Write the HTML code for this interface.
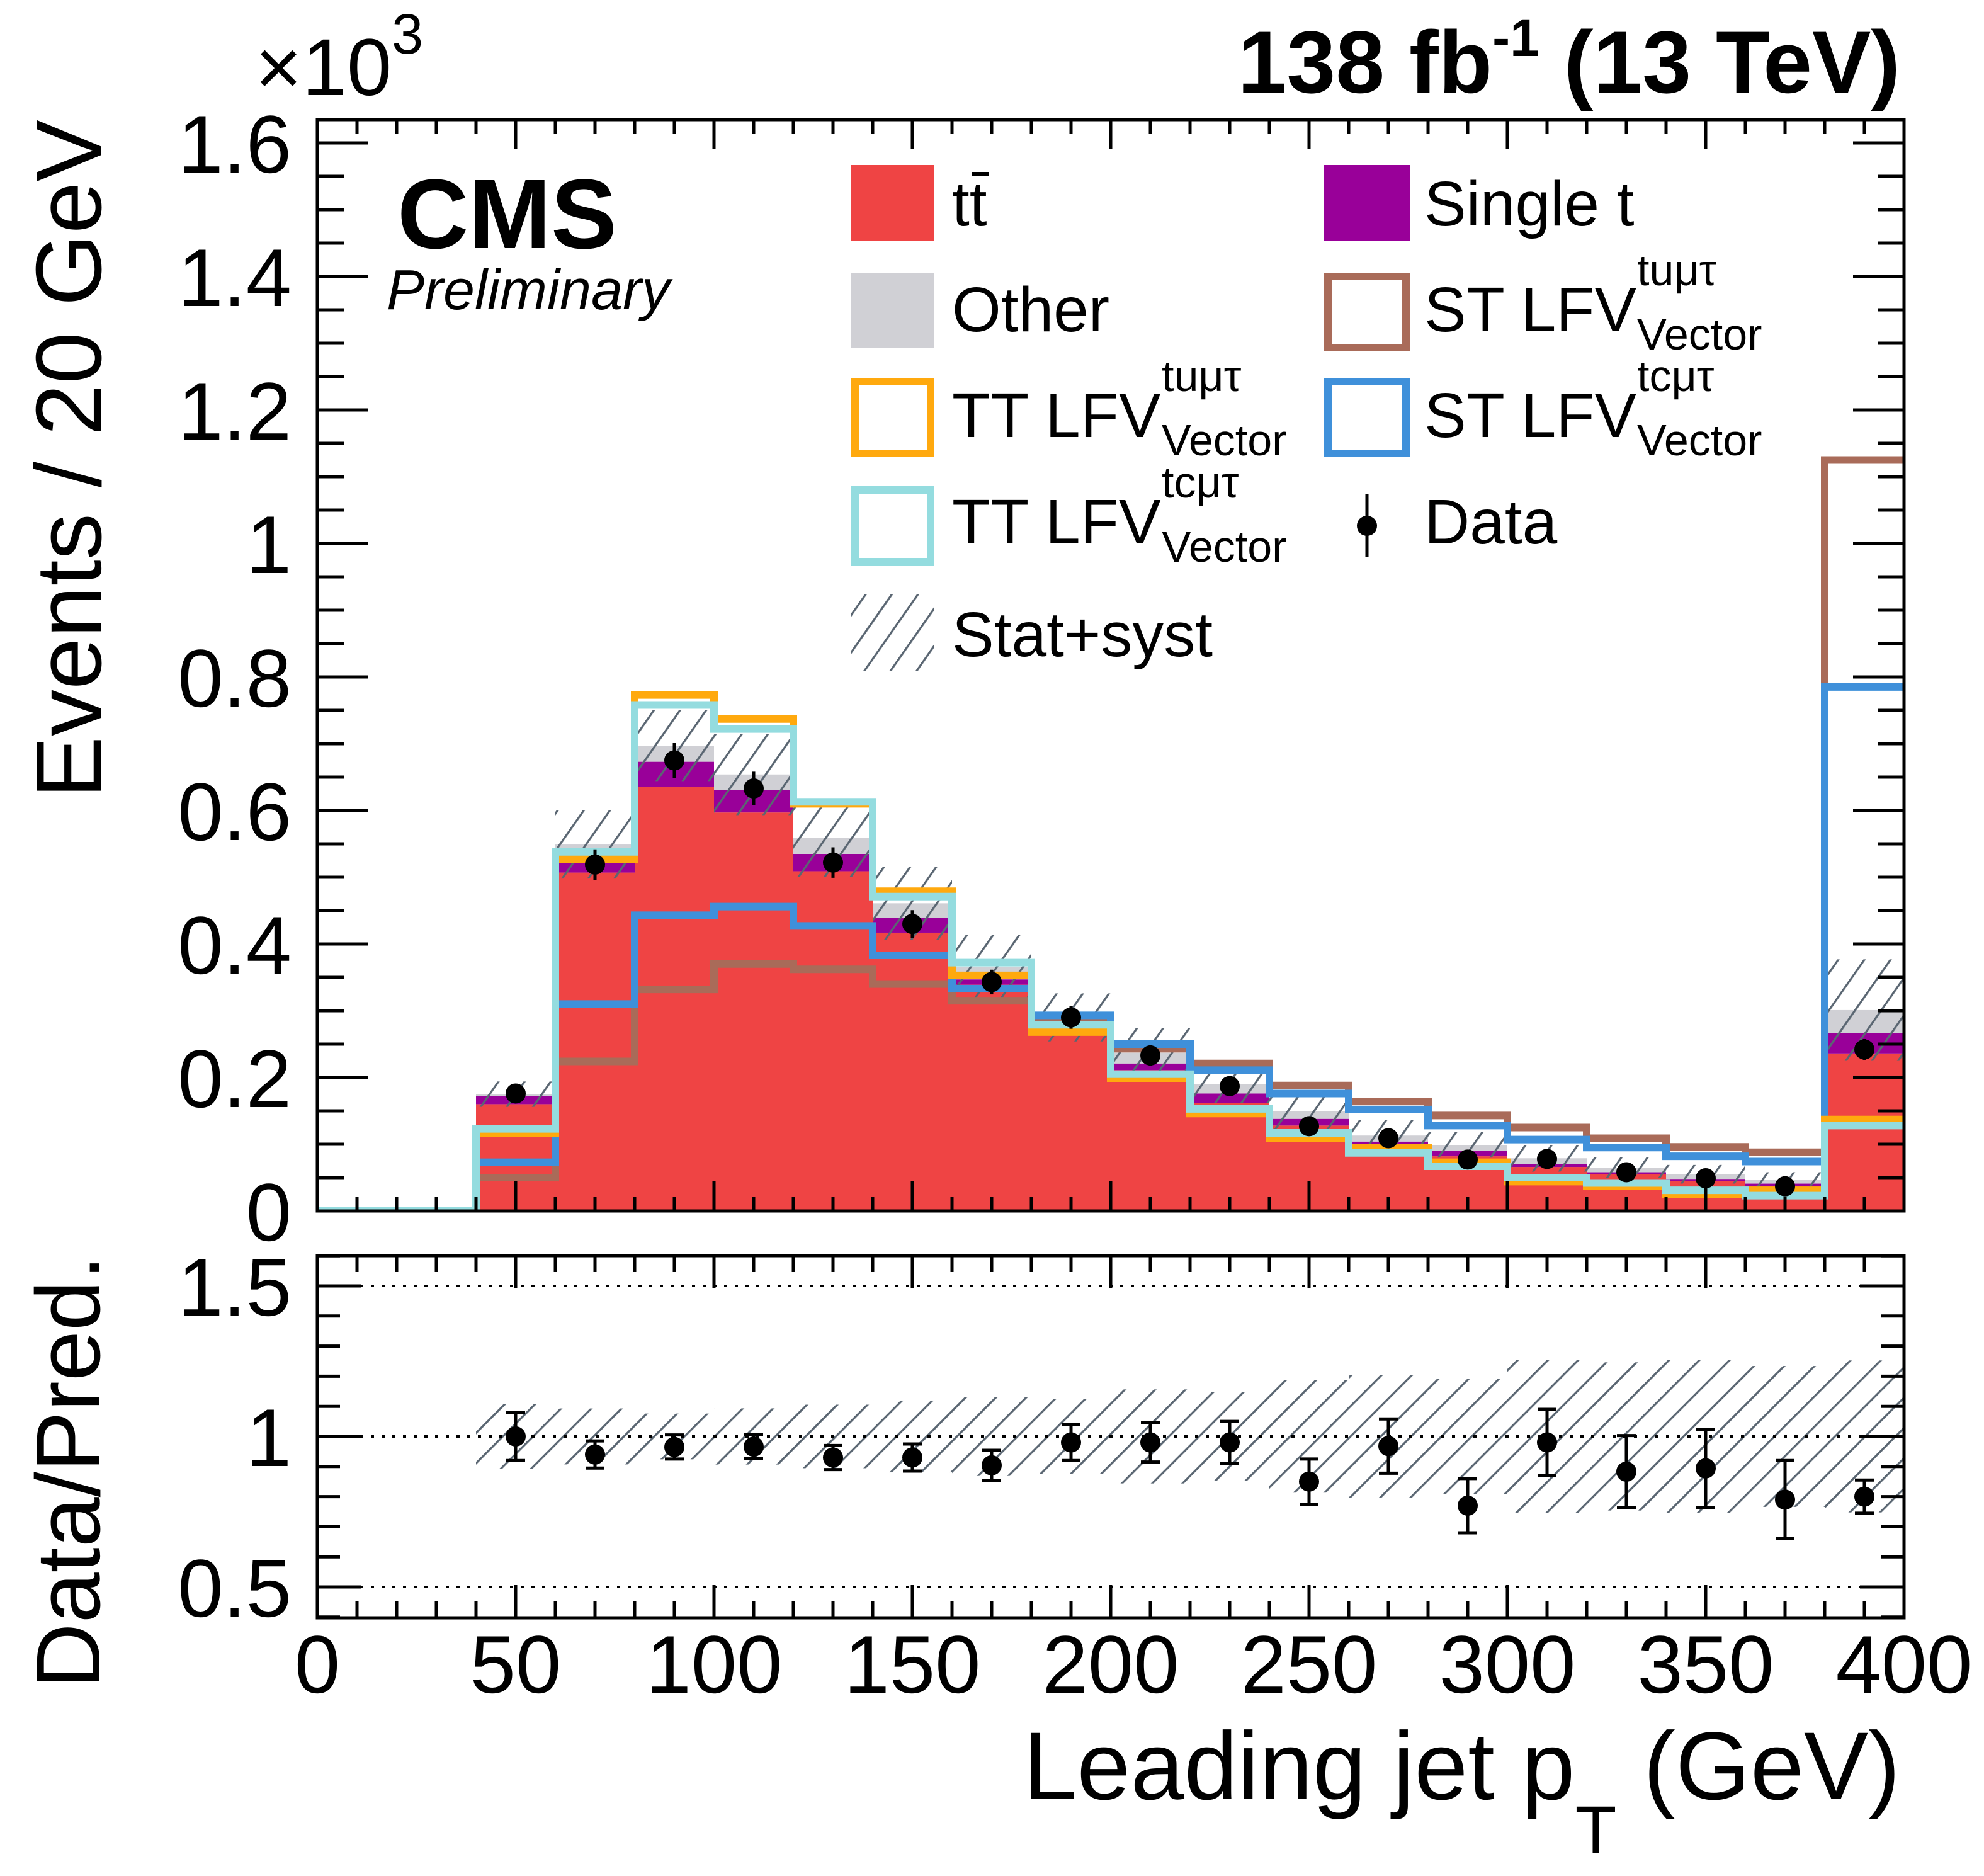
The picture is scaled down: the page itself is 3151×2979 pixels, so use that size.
<!DOCTYPE html>
<html><head><meta charset="utf-8"><style>
html,body{margin:0;padding:0;background:#fff}
svg{display:block;font-family:"Liberation Sans",Arial,sans-serif}
</style></head><body>
<svg id="chart" width="3151" height="2979" viewBox="0 0 3151 2979" xmlns="http://www.w3.org/2000/svg">
<defs>
<pattern id="hatchMain" patternUnits="userSpaceOnUse" width="34" height="34" patternTransform="rotate(35)"><line x1="0" y1="0" x2="0" y2="34" stroke="#5a6672" stroke-width="6.5"/></pattern>
<pattern id="hatchRatio" patternUnits="userSpaceOnUse" width="34" height="34" patternTransform="rotate(45)"><line x1="0" y1="0" x2="0" y2="34" stroke="#5a6672" stroke-width="6.5"/></pattern>
<clipPath id="clipMain"><rect x="504" y="190" width="2520" height="1733"/></clipPath>
<clipPath id="clipRatio"><rect x="504" y="1994" width="2520" height="575"/></clipPath>
</defs>
<g id="mainLayer" clip-path="url(#clipMain)"></g>
<g id="ratioLayer" clip-path="url(#clipRatio)"></g>
<g id="axisLayer"></g>

<text x="405" y="151" font-size="128">×10<tspan dy="-66" font-size="90">3</tspan></text>
<text x="3018" y="147" font-size="140" font-weight="bold" text-anchor="end">138 fb<tspan dy="-58" font-size="84">-1</tspan><tspan dy="58"> (13 TeV)</tspan></text>
<text x="631" y="394" font-size="157" font-weight="bold">CMS</text>
<text x="614" y="491" font-size="90" font-style="italic">Preliminary</text>
<text transform="translate(160,190) rotate(-90)" font-size="148" text-anchor="end">Events / 20 GeV</text>
<text transform="translate(158,1993) rotate(-90)" font-size="144" text-anchor="end">Data/Pred.</text>
<text x="3018" y="2857" font-size="153" text-anchor="end">Leading jet p<tspan dy="86" font-size="108">T</tspan><tspan dy="-86"> (GeV)</tspan></text>

<g font-size="100">
 <g>
  <rect x="1352" y="262" width="132" height="120" fill="#ef4444"/>
  <text x="1512" y="358">tt</text><line x1="1543" y1="276" x2="1570" y2="276" stroke="#000" stroke-width="6"/>
 </g>
 <g>
  <rect x="1352" y="433" width="132" height="119" fill="#d0d0d5"/>
  <text x="1512" y="526">Other</text>
 </g>
 <g>
  <rect x="1358" y="606" width="120" height="114" fill="none" stroke="#ffa90e" stroke-width="12"/>
  <text x="1512" y="694">TT LFV</text><text x="1845" y="621" font-size="70">tuμτ</text><text x="1845" y="723" font-size="70">Vector</text>
 </g>
 <g>
  <rect x="1358" y="778" width="120" height="114" fill="none" stroke="#94dcdf" stroke-width="12"/>
  <text x="1512" y="863">TT LFV</text><text x="1845" y="790" font-size="70">tcμτ</text><text x="1845" y="892" font-size="70">Vector</text>
 </g>
 <g>
  <rect x="1352" y="944" width="132" height="122" fill="url(#hatchMain)"/>
  <text x="1512" y="1042">Stat+syst</text>
 </g>
 <g>
  <rect x="2103" y="262" width="136" height="120" fill="#990099"/>
  <text x="2262" y="358">Single t</text>
 </g>
 <g>
  <rect x="2109" y="439" width="124" height="113" fill="none" stroke="#a96b59" stroke-width="12"/>
  <text x="2262" y="526">ST LFV</text><text x="2600" y="453" font-size="70">tuμτ</text><text x="2600" y="555" font-size="70">Vector</text>
 </g>
 <g>
  <rect x="2109" y="606" width="124" height="114" fill="none" stroke="#3f90da" stroke-width="12"/>
  <text x="2262" y="694">ST LFV</text><text x="2600" y="621" font-size="70">tcμτ</text><text x="2600" y="723" font-size="70">Vector</text>
 </g>
 <g>
  <line x1="2171" y1="784" x2="2171" y2="885" stroke="#000" stroke-width="5"/>
  <circle cx="2171" cy="835" r="16" fill="#000"/>
  <text x="2262" y="863">Data</text>
 </g>
</g>
</svg>
<script>
var binLow = [0,20,40,60,80,100,120,140,160,180,200,220,240,260,280,300,320,340,360,380];
var ttbar = [0,0,160,507,635,597,509,417,339,268,211,162,128,98,82,66,55,45,37,236];
var singleT = [0,0,12,16,38,34,26,22,8,10,10,14,10,6,8,4,3,3,4,31];
var other = [0,0,3,26,24,23,24,22,19,12,16,14,12,9,9,9,7,7,6,34];
var statSyst = [0,0,19,51,53,61,59,55,48,36,37,28,28,23,19,20,16,14,11,76];
var dataVals = [0,0,176,519,675,633,522,430,343,290,233,187,127,109,77,78,58,49,37,242];
var ttLfvTu = [0,0,116,527,773,737,610,479,353,268,199,146,109,95,73,44,37,25,31,137];
var ttLfvTc = [0,0,123,538,758,722,613,471,372,279,205,153,117,87,67,50,42,31,23,128];
var stLfvTu = [0,0,50,224,332,370,362,340,315,287,243,221,188,164,143,125,109,96,88,1125];
var stLfvTc = [0,0,73,310,443,456,427,383,333,293,250,211,176,152,128,107,95,82,74,785];
var ratioVals = [null,null,1.00,0.94,0.965,0.966,0.93,0.93,0.904,0.98,0.98,0.98,0.85,0.968,0.77,0.98,0.883,0.894,0.79,0.80];
var ratioErr = [null,null,0.08,0.045,0.04,0.04,0.04,0.045,0.05,0.06,0.065,0.07,0.075,0.09,0.09,0.11,0.12,0.13,0.13,0.055];
var xTicks = [0,50,100,150,200,250,300,350,400];
var yTicks = [0,0.2,0.4,0.6,0.8,1,1.2,1.4,1.6];
var yTickLabels = ["0","0.2","0.4","0.6","0.8","1","1.2","1.4","1.6"];
var rTicks = [0.5,1,1.5];
var rTickLabels = ["0.5","1","1.5"];
var binWidth = 20;

var X0=504, X1=3024, YB=1923, YT=190, RT=1994, RB=2569;
function X(v){return X0+v*(X1-X0)/400;}
function Y(e){return YB-e*1.06;}
function R(r){return 2281-(r-1)*478;}

var NS="http://www.w3.org/2000/svg";
function mk(tag,attrs,parent){var el=document.createElementNS(NS,tag);for(var k in attrs)el.setAttribute(k,attrs[k]);parent.appendChild(el);return el;}
var main=document.getElementById('mainLayer');
var ratio=document.getElementById('ratioLayer');
var axes=document.getElementById('axisLayer');

for(var i=0;i<binLow.length;i++){
  var x=X(binLow[i]), w=X(binLow[i]+binWidth)-x;
  var b0=0, b1=ttbar[i], b2=b1+singleT[i], b3=b2+other[i];
  if(b1>0){var r1=mk('rect',{x:x,y:Y(b1),width:w,height:Y(b0)-Y(b1),fill:'#ef4444'},main);
    
    }
  if(b2>b1){var r2=mk('rect',{x:x,y:Y(b2),width:w,height:Y(b1)-Y(b2),fill:'#990099'},main);
    
    }
  if(b3>b2){var r3=mk('rect',{x:x,y:Y(b3),width:w,height:Y(b2)-Y(b3),fill:'#d0d0d5'},main);
    
    }
  if(statSyst[i]>0){var h=mk('rect',{x:x,y:Y(b3+statSyst[i]),width:w,height:Y(b3-statSyst[i])-Y(b3+statSyst[i]),fill:'url(#hatchMain)'},main);
    
    
    var rh=mk('rect',{x:x,y:R(1+statSyst[i]/b3),width:w,height:R(1-statSyst[i]/b3)-R(1+statSyst[i]/b3),fill:'url(#hatchRatio)'},ratio);
    
    }
}
function stepPath(s){var d='M'+X(binLow[0])+' '+Y(s[0]);
  for(var i=0;i<s.length;i++){d+=' H'+X(binLow[i]+binWidth); if(i+1<s.length)d+=' V'+Y(s[i+1]);}
  return d;}
var l1=mk('path',{d:stepPath(stLfvTu),fill:'none',stroke:'#a96b59','stroke-width':12},main);


var l2=mk('path',{d:stepPath(stLfvTc),fill:'none',stroke:'#3f90da','stroke-width':12},main);


var l3=mk('path',{d:stepPath(ttLfvTu),fill:'none',stroke:'#ffa90e','stroke-width':12},main);


var l4=mk('path',{d:stepPath(ttLfvTc),fill:'none',stroke:'#94dcdf','stroke-width':12},main);



for(var i=0;i<binLow.length;i++){
  if(dataVals[i]<=0)continue;
  var cx=X(binLow[i]+binWidth/2), e=Math.sqrt(dataVals[i]);
  var eb=mk('line',{x1:cx,x2:cx,y1:Y(dataVals[i]+e),y2:Y(dataVals[i]-e),stroke:'#000','stroke-width':5},main);
  
  
  var p=mk('circle',{cx:cx,cy:Y(dataVals[i]),r:16,fill:'#000'},main);
  
  
}
for(var k=0;k<rTicks.length;k++){
  var rl=mk('line',{x1:X0,x2:X1,y1:R(rTicks[k]),y2:R(rTicks[k]),stroke:'#000','stroke-width':4,'stroke-dasharray':'5 12'},ratio);
  
  
}
for(var i=0;i<binLow.length;i++){
  if(ratioVals[i]===null)continue;
  var cx=X(binLow[i]+binWidth/2), v=ratioVals[i], er=ratioErr[i];
  var g=mk('g',{},ratio);
  
  
  mk('line',{x1:cx,x2:cx,y1:R(v+er),y2:R(v-er),stroke:'#000','stroke-width':5},g);
  mk('line',{x1:cx-15,x2:cx+15,y1:R(v+er),y2:R(v+er),stroke:'#000','stroke-width':5},g);
  mk('line',{x1:cx-15,x2:cx+15,y1:R(v-er),y2:R(v-er),stroke:'#000','stroke-width':5},g);
  mk('circle',{cx:cx,cy:R(v),r:16,fill:'#000'},g);
}
var f1=mk('rect',{x:X0,y:YT,width:X1-X0,height:YB-YT,fill:'none',stroke:'#000','stroke-width':5},axes);


var f2=mk('rect',{x:X0,y:RT,width:X1-X0,height:RB-RT,fill:'none',stroke:'#000','stroke-width':5},axes);


for(var v=0;v<=400;v+=10){
  var x=X(v), maj=(v%50===0);
  var lm=maj?47:23, lr=maj?52:26;
  mk('line',{x1:x,x2:x,y1:YB,y2:YB-lm,stroke:'#000','stroke-width':5},axes);
  mk('line',{x1:x,x2:x,y1:YT,y2:YT+lm,stroke:'#000','stroke-width':5},axes);
  mk('line',{x1:x,x2:x,y1:RB,y2:RB-lr,stroke:'#000','stroke-width':5},axes);
  mk('line',{x1:x,x2:x,y1:RT,y2:RT+lr,stroke:'#000','stroke-width':5},axes);
}
for(var k=0;k<xTicks.length;k++){
  var t=mk('text',{x:X(xTicks[k]),y:2688,'font-size':130,'text-anchor':'middle'},axes);
  t.textContent=xTicks[k];
  
  
}
for(var e=0;e<=1630;e+=50){
  var y=Y(e), maj=(e%200===0), l=maj?81:42;
  mk('line',{x1:X0,x2:X0+l,y1:y,y2:y,stroke:'#000','stroke-width':5},axes);
  mk('line',{x1:X1,x2:X1-l,y1:y,y2:y,stroke:'#000','stroke-width':5},axes);
}
for(var k=0;k<yTicks.length;k++){
  var t=mk('text',{x:463,y:Y(yTicks[k]*1000)+47,'font-size':130,'text-anchor':'end'},axes);
  t.textContent=yTickLabels[k];
  
  
}
for(var n=4;n<=16;n++){
  var r=n/10, y=R(r), maj=(n%5===0), l=maj?70:36;
  mk('line',{x1:X0,x2:X0+l,y1:y,y2:y,stroke:'#000','stroke-width':5},axes);
  mk('line',{x1:X1,x2:X1-l,y1:y,y2:y,stroke:'#000','stroke-width':5},axes);
}
for(var k=0;k<rTicks.length;k++){
  var t=mk('text',{x:463,y:R(rTicks[k])+47,'font-size':130,'text-anchor':'end'},axes);
  t.textContent=rTickLabels[k];
  
  
}
</script>
</body></html>
